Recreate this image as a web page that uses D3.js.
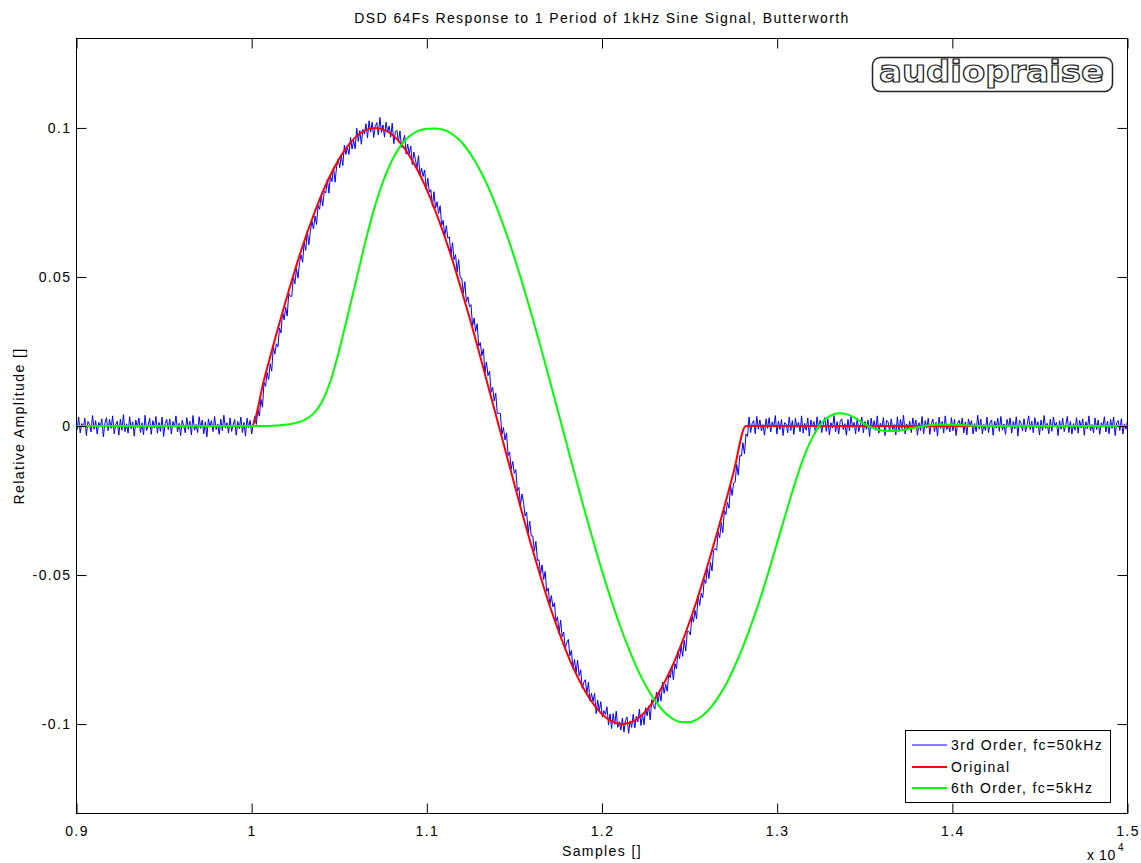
<!DOCTYPE html>
<html>
<head>
<meta charset="utf-8">
<script src="https://cdn.jsdelivr.net/npm/d3@7"></script>
<style>
  html, body { margin: 0; padding: 0; background: #ffffff; }
  svg { display: block; }
  text { font-family: "Liberation Sans", Arial, sans-serif; fill: #000; }
</style>
</head>
<body>
<svg id="chart" width="1141" height="863"></svg>
<script>
// ---------------- DATA ----------------
const titleText = "DSD 64Fs Response to 1 Period of 1kHz Sine Signal, Butterworth";
const xLabelText = "Samples []";
const yLabelText = "Relative Amplitude []";
const seriesNames = ["3rd Order, fc=50kHz", "Original", "6th Order, fc=5kHz"];

const xTickValues = [9000, 10000, 11000, 12000, 13000, 14000, 15000];
const xTickLabels = ["0.9", "1", "1.1", "1.2", "1.3", "1.4", "1.5"];
const yTickValues = [-0.1, -0.05, 0, 0.05, 0.1];
const yTickLabels = ["-0.1", "-0.05", "0", "0.05", "0.1"];

// Original (red)
const redX = [9000, 10000, 10071, 10141, 10212, 10282, 10353, 10423, 10494, 10564, 10635,
  10706, 10776, 10847, 10917, 10988, 11058, 11129, 11199, 11270, 11340,
  11411, 11482, 11552, 11623, 11693, 11764, 11834, 11905, 11975, 12046,
  12117, 12187, 12258, 12328, 12399, 12469, 12540, 12610, 12681, 12751,
  12822, 15000];
const redY = [0, 0, 0.0156, 0.0309, 0.0454, 0.0588, 0.0707, 0.0809, 0.0891, 0.0951, 0.0988,
  0.1, 0.0988, 0.0951, 0.0891, 0.0809, 0.0707, 0.0588, 0.0454, 0.0309, 0.0156,
  0, -0.0156, -0.0309, -0.0454, -0.0588, -0.0707, -0.0809, -0.0891, -0.0951, -0.0988,
  -0.1, -0.0988, -0.0951, -0.0891, -0.0809, -0.0707, -0.0588, -0.0454, -0.0309, -0.0156,
  0, 0];

// 6th order, fc=5kHz (green)
const greenX = [9000, 10000, 10050, 10100, 10150, 10200, 10250, 10300, 10350, 10400, 10450,
  10500, 10550, 10600, 10650, 10700, 10750, 10800, 10850, 10900, 10950,
  11000, 11050, 11100, 11150, 11200, 11250, 11300, 11350, 11400, 11450,
  11500, 11550, 11600, 11650, 11700, 11750, 11800, 11850, 11900, 11950,
  12000, 12050, 12100, 12150, 12200, 12250, 12300, 12350, 12400, 12450,
  12500, 12550, 12600, 12650, 12700, 12750, 12800, 12850, 12900, 12950,
  13000, 13050, 13100, 13150, 13200, 13250, 13300, 13350, 13400, 13450,
  13500, 13550, 13600, 13650, 13700, 13750, 13800, 13850, 13900, 13950,
  14000, 14100, 14200, 15000];
const greenY = [0, 0, 0, 0, 0.0002, 0.0005, 0.0010, 0.0020, 0.0040, 0.0080, 0.0150,
  0.0255, 0.0375, 0.0497, 0.0620, 0.0730, 0.0820, 0.0890, 0.0940, 0.0972, 0.0990,
  0.0997, 0.0998, 0.0993, 0.0977, 0.0951, 0.0912, 0.0862, 0.0802, 0.0732, 0.0652,
  0.0565, 0.0470, 0.0370, 0.0265, 0.0157, 0.0047, -0.0064, -0.0174, -0.0282, -0.0386,
  -0.0486, -0.0579, -0.0665, -0.0743, -0.0813, -0.0871, -0.0919, -0.0956, -0.0981, -0.0993,
  -0.0994, -0.0982, -0.0958, -0.0922, -0.0875, -0.0816, -0.0748, -0.0670, -0.0585, -0.0491,
  -0.0392, -0.0292, -0.0195, -0.0108, -0.0040, 0.0008, 0.0033, 0.0043, 0.0039, 0.0025,
  0.0006, -0.0008, -0.0015, -0.0017, -0.0015, -0.0010, -0.0004, 0.0001, 0.0004, 0.0005,
  0.0004, 0.0002, 0, 0];

// 3rd order, fc=50kHz (blue), evenly sampled
const blueStart = 8994.66;
const blueStep = 8.81875;
const blueY = [
  0.0019,-0.0012,0.0030,-0.0023,0.0008,-0.0004,0.0026,-0.0032,0.0015,0.0005,-0.0020,0.0035,-0.0011,0.0018,-0.0027,0.0012,-0.0003,0.0024,-0.0036,0.0009,
  0.0028,-0.0016,0.0022,-0.0008,0.0034,-0.0026,0.0004,0.0016,-0.0031,0.0023,-0.0014,0.0038,-0.0019,0.0007,-0.0024,0.0031,-0.0009,0.0014,-0.0034,0.0020,
  -0.0005,0.0027,-0.0022,0.0011,-0.0030,0.0036,-0.0015,0.0003,0.0026,-0.0028,0.0018,-0.0007,0.0032,-0.0024,0.0012,-0.0018,0.0030,-0.0035,0.0008,0.0022,
  -0.0012,0.0024,-0.0027,0.0015,-0.0004,0.0034,-0.0020,0.0009,-0.0032,0.0019,0.0001,-0.0023,0.0028,-0.0011,0.0016,-0.0030,0.0035,-0.0014,0.0005,-0.0022,
  0.0031,-0.0008,0.0020,-0.0026,0.0014,-0.0036,0.0024,-0.0003,0.0018,-0.0019,0.0032,-0.0012,0.0007,-0.0028,0.0023,-0.0016,0.0036,-0.0007,0.0011,-0.0024,
  0.0027,-0.0018,0.0004,0.0022,-0.0031,0.0015,-0.0009,0.0030,-0.0022,0.0012,-0.0034,0.0026,-0.0005,0.0019,-0.0027,0.0008,0.0032,0.0005,0.0055,0.0033,
  0.0090,0.0063,0.0146,0.0133,0.0179,0.0156,0.0209,0.0184,0.0267,0.0241,0.0276,0.0266,0.0329,0.0312,0.0384,0.0356,0.0398,0.0369,0.0445,0.0435,
  0.0435,0.0502,0.0477,0.0528,0.0496,0.0548,0.0574,0.0549,0.0618,0.0589,0.0654,0.0608,0.0652,0.0688,0.0661,0.0705,0.0676,0.0740,0.0727,0.0775,
  0.0738,0.0788,0.0782,0.0829,0.0781,0.0840,0.0820,0.0869,0.0818,0.0871,0.0896,0.0867,0.0907,0.0874,0.0942,0.0911,0.0935,0.0911,0.0968,0.0929,
  0.0958,0.0930,0.0999,0.0955,0.0991,0.0945,0.0995,0.0980,0.1014,0.0967,0.1024,0.0986,0.1019,0.0968,0.1004,0.1018,0.0976,0.1035,0.0985,0.1010,
  0.0969,0.1019,0.0985,0.1006,0.0969,0.1016,0.0947,0.0986,0.0992,0.0952,0.0990,0.0935,0.0955,0.0975,0.0912,0.0946,0.0913,0.0939,0.0877,0.0919,
  0.0894,0.0864,0.0907,0.0839,0.0865,0.0837,0.0859,0.0793,0.0831,0.0785,0.0793,0.0737,0.0786,0.0731,0.0752,0.0713,0.0739,0.0673,0.0690,0.0636,
  0.0672,0.0630,0.0634,0.0571,0.0615,0.0558,0.0575,0.0516,0.0558,0.0497,0.0496,0.0445,0.0484,0.0417,0.0433,0.0400,0.0407,0.0334,0.0362,0.0317,
  0.0343,0.0268,0.0280,0.0236,0.0259,0.0179,0.0215,0.0169,0.0184,0.0113,0.0130,0.0084,0.0110,0.0041,0.0043,0.0042,-0.0028,-0.0005,-0.0047,-0.0023,
  -0.0099,-0.0087,-0.0145,-0.0119,-0.0159,-0.0146,-0.0218,-0.0206,-0.0267,-0.0228,-0.0256,-0.0302,-0.0289,-0.0359,-0.0319,-0.0369,-0.0369,-0.0420,-0.0387,-0.0451,
  -0.0449,-0.0497,-0.0466,-0.0515,-0.0488,-0.0555,-0.0544,-0.0600,-0.0569,-0.0607,-0.0593,-0.0656,-0.0640,-0.0696,-0.0651,-0.0707,-0.0691,-0.0745,-0.0727,-0.0716,
  -0.0771,-0.0753,-0.0815,-0.0783,-0.0827,-0.0786,-0.0838,-0.0818,-0.0880,-0.0860,-0.0851,-0.0897,-0.0859,-0.0923,-0.0897,-0.0924,-0.0897,-0.0965,-0.0920,-0.0957,
  -0.0925,-0.0976,-0.0955,-0.0968,-0.0942,-0.1003,-0.0966,-0.1015,-0.0965,-0.1001,-0.0957,-0.1011,-0.0992,-0.1020,-0.0980,-0.1027,-0.0988,-0.0976,-0.1031,-0.0989,
  -0.1011,-0.0967,-0.1013,-0.0974,-0.0993,-0.0950,-0.1005,-0.0966,-0.1002,-0.0945,-0.0972,-0.0939,-0.0986,-0.0918,-0.0937,-0.0950,-0.0893,-0.0928,-0.0894,-0.0923,
  -0.0859,-0.0897,-0.0866,-0.0890,-0.0833,-0.0845,-0.0805,-0.0851,-0.0797,-0.0815,-0.0755,-0.0781,-0.0737,-0.0773,-0.0719,-0.0755,-0.0688,-0.0689,-0.0701,-0.0637,
  -0.0658,-0.0618,-0.0647,-0.0568,-0.0602,-0.0561,-0.0576,-0.0515,-0.0528,-0.0475,-0.0512,-0.0457,-0.0486,-0.0418,-0.0411,-0.0417,-0.0355,-0.0375,-0.0324,-0.0358,
  -0.0283,-0.0297,-0.0256,-0.0276,-0.0199,-0.0233,-0.0191,-0.0188,-0.0129,-0.0165,-0.0099,-0.0101,-0.0056,-0.0094,-0.0027,-0.0035,0.0030,-0.0022,0.0009,0.0018,
  -0.0026,0.0032,-0.0011,0.0020,-0.0016,0.0005,-0.0031,0.0024,-0.0008,0.0028,-0.0020,0.0014,-0.0004,0.0035,-0.0027,0.0016,-0.0012,0.0022,-0.0032,0.0011,
  0.0007,-0.0023,0.0030,-0.0015,0.0018,-0.0028,0.0026,-0.0005,0.0012,-0.0019,0.0034,-0.0024,0.0009,-0.0014,0.0027,-0.0034,0.0020,-0.0003,0.0015,-0.0026,
  0.0031,-0.0009,0.0019,-0.0022,0.0004,0.0028,-0.0018,0.0023,-0.0030,0.0011,-0.0007,0.0035,-0.0020,0.0014,-0.0027,0.0016,0.0024,-0.0012,0.0008,-0.0031,
  0.0022,-0.0016,0.0032,-0.0005,0.0012,-0.0026,0.0027,-0.0019,0.0003,0.0030,-0.0023,0.0015,-0.0011,0.0020,-0.0035,0.0026,-0.0008,0.0018,-0.0015,0.0034,
  -0.0024,0.0009,-0.0004,0.0028,-0.0032,0.0019,0.0014,-0.0020,0.0024,-0.0012,0.0005,-0.0030,0.0031,-0.0018,0.0022,-0.0009,0.0036,-0.0027,0.0007,-0.0014,
  0.0016,-0.0022,0.0027,-0.0003,0.0020,-0.0031,0.0011,-0.0015,0.0032,-0.0026,0.0018,-0.0007,0.0026,-0.0028,0.0008,0.0023,-0.0019,0.0012,-0.0034,0.0030,
  -0.0008,0.0015,-0.0024,0.0034,-0.0012,0.0004,-0.0020,0.0028,-0.0016,0.0022,-0.0032,0.0009,0.0019,-0.0004,0.0027,-0.0023,0.0014,-0.0030,0.0024,-0.0001,
  0.0018,-0.0027,0.0008,-0.0019,0.0036,-0.0011,0.0023,-0.0026,0.0005,-0.0015,0.0030,-0.0022,0.0012,0.0020,-0.0031,0.0016,-0.0007,0.0026,-0.0018,0.0032,
  -0.0014,0.0007,-0.0028,0.0022,-0.0003,0.0027,-0.0024,0.0015,-0.0009,0.0031,-0.0034,0.0019,0.0011,-0.0016,0.0024,-0.0020,0.0004,0.0034,-0.0012,0.0016,
  -0.0023,0.0028,-0.0005,0.0014,-0.0030,0.0020,-0.0015,0.0035,-0.0008,0.0009,-0.0026,0.0023,-0.0018,0.0030,-0.0001,0.0012,-0.0032,0.0018,-0.0011,0.0026,
  -0.0019,0.0004,0.0032,-0.0022,0.0015,-0.0027,0.0008,-0.0014,0.0028,-0.0024,0.0019,-0.0007,0.0024,-0.0031,0.0014,-0.0009,0.0034,-0.0016,0.0005,-0.0023,
  0.0027,-0.0012,0.0020,-0.0028,0.0011,-0.0004,0.0031,-0.0020,0.0016,-0.0026,0.0022,-0.0008,0.0030,-0.0032,0.0012,0.0018,-0.0015,0.0024,-0.0027,0.0007,-0.0011,0.0019
];

const seriesColors = ["#0000ff", "#ff0000", "#00ff00"];

// ---------------- LAYOUT ----------------
const svg = d3.select("#chart");
const plot = { left: 76.5, right: 1127.5, top: 38.5, bottom: 813.5 };

svg.append("rect").attr("width", 1141).attr("height", 863).attr("fill", "#ffffff");

const x = d3.scaleLinear().domain([9000, 15000]).range([plot.left, plot.right]);
const y = d3.scaleLinear().domain([-0.13, 0.13]).range([plot.bottom, plot.top]);

svg.append("defs").append("clipPath").attr("id", "clip")
  .append("rect")
  .attr("x", plot.left).attr("y", plot.top)
  .attr("width", plot.right - plot.left).attr("height", plot.bottom - plot.top);

// ---------------- SERIES ----------------
const lines = svg.append("g").attr("clip-path", "url(#clip)");

const blueData = blueY.map((v, i) => [blueStart + i * blueStep, v]);
const redData = redX.map((v, i) => [v, redY[i]]);
const greenData = greenX.map((v, i) => [v, greenY[i]]);

const linearLine = d3.line().x(d => x(d[0])).y(d => y(d[1]));
const smoothLine = d3.line().x(d => x(d[0])).y(d => y(d[1])).curve(d3.curveMonotoneX);

lines.append("path").datum(blueData)
  .attr("d", linearLine).attr("fill", "none")
  .attr("stroke", seriesColors[0]).attr("stroke-width", 1);

lines.append("path").datum(redData)
  .attr("d", smoothLine).attr("fill", "none")
  .attr("stroke", seriesColors[1]).attr("stroke-width", 2).attr("stroke-linejoin", "round");

lines.append("path").datum(greenData)
  .attr("d", smoothLine).attr("fill", "none")
  .attr("stroke", seriesColors[2]).attr("stroke-width", 2).attr("stroke-linejoin", "round");

// ---------------- AXES ----------------
const fontSize = 14;
const letterSp = 1.4;

const xAxisB = d3.axisBottom(x).tickValues(xTickValues)
  .tickFormat((d, i) => xTickLabels[i]).tickSize(-10).tickPadding(13);
const gxB = svg.append("g").attr("transform", `translate(0,${plot.bottom})`).call(xAxisB);

const xAxisT = d3.axisTop(x).tickValues(xTickValues).tickFormat("").tickSize(-10);
const gxT = svg.append("g").attr("transform", `translate(0,${plot.top})`).call(xAxisT);

const yAxisL = d3.axisLeft(y).tickValues(yTickValues)
  .tickFormat((d, i) => yTickLabels[i]).tickSize(-10).tickPadding(5);
const gyL = svg.append("g").attr("transform", `translate(${plot.left},0)`).call(yAxisL);

const yAxisR = d3.axisRight(y).tickValues(yTickValues).tickFormat("").tickSize(-10);
const gyR = svg.append("g").attr("transform", `translate(${plot.right},0)`).call(yAxisR);

[gxB, gxT, gyL, gyR].forEach(g => {
  g.select(".domain").remove();
  g.selectAll(".tick line").attr("stroke", "#000").attr("stroke-width", 1);
  g.selectAll("text")
    .attr("font-family", '"Liberation Sans", Arial, sans-serif')
    .attr("font-size", fontSize)
    .attr("letter-spacing", letterSp)
    .attr("fill", "#000");
});

// box
svg.append("rect")
  .attr("x", plot.left).attr("y", plot.top)
  .attr("width", plot.right - plot.left).attr("height", plot.bottom - plot.top)
  .attr("fill", "none").attr("stroke", "#000").attr("stroke-width", 1);

// exponent label
svg.append("text")
  .attr("x", 1087).attr("y", 860)
  .attr("font-size", fontSize).attr("letter-spacing", 0.6)
  .text("x 10");
svg.append("text")
  .attr("x", 1118).attr("y", 851)
  .attr("font-size", 10)
  .text("4");

// title & axis labels
svg.append("text")
  .attr("x", 602).attr("y", 23).attr("text-anchor", "middle")
  .attr("font-size", fontSize).attr("letter-spacing", letterSp)
  .text(titleText);

svg.append("text")
  .attr("x", 602).attr("y", 856).attr("text-anchor", "middle")
  .attr("font-size", fontSize).attr("letter-spacing", letterSp)
  .text(xLabelText);

svg.append("text")
  .attr("transform", "translate(24,426) rotate(-90)")
  .attr("text-anchor", "middle")
  .attr("font-size", fontSize).attr("letter-spacing", letterSp)
  .text(yLabelText);

// ---------------- LEGEND ----------------
const legend = svg.append("g");
legend.append("rect")
  .attr("x", 905.5).attr("y", 730.5).attr("width", 205).attr("height", 72)
  .attr("fill", "#ffffff").attr("stroke", "#000").attr("stroke-width", 1);
const legendRows = [745, 767, 788];
const legendWidths = [1, 2, 2];
seriesNames.forEach((name, i) => {
  legend.append("line")
    .attr("x1", 912).attr("x2", 947)
    .attr("y1", legendRows[i]).attr("y2", legendRows[i])
    .attr("stroke", seriesColors[i]).attr("stroke-width", legendWidths[i]);
  legend.append("text")
    .attr("x", 951).attr("y", legendRows[i] + 5)
    .attr("font-size", fontSize).attr("letter-spacing", letterSp)
    .text(name);
});

// ---------------- LOGO ----------------
const logo = svg.append("g");
logo.append("rect")
  .attr("x", 872.5).attr("y", 57.5).attr("width", 240).attr("height", 34).attr("rx", 8)
  .attr("fill", "#ffffff").attr("stroke", "#222").attr("stroke-width", 1.5);
logo.append("text")
  .attr("x", 879).attr("y", 82)
  .attr("textLength", 225).attr("lengthAdjust", "spacingAndGlyphs")
  .style("font-family", '"DejaVu Sans", sans-serif')
  .attr("font-weight", "bold")
  .attr("font-size", 30)
  .style("fill", "#ffffff")
  .attr("stroke", "#222").attr("stroke-width", 1.2)
  .text("audiopraise");
</script>
</body>
</html>
